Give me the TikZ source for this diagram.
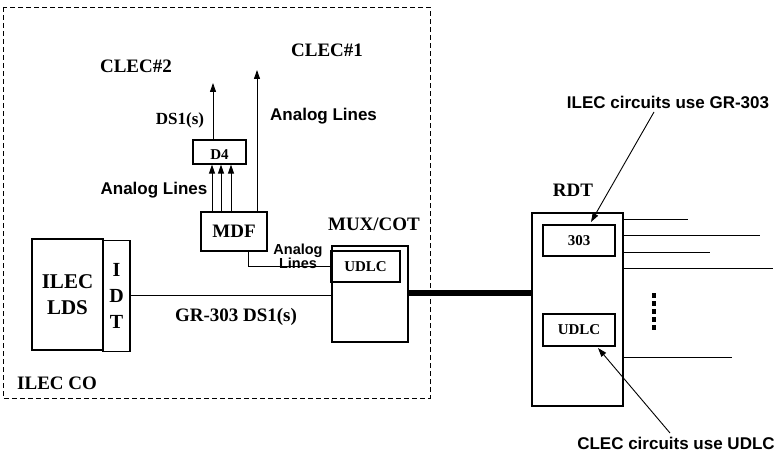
\documentclass[tikz,border=0pt]{standalone}
\usepackage{fontspec}
\setmainfont{Liberation Serif}
\newfontfamily\sansf{Liberation Sans}
\usetikzlibrary{arrows.meta}
\begin{document}
\begin{tikzpicture}[x=1pt,y=-1pt,
  box/.style={draw,line width=1.2pt,inner sep=0pt},
  ln/.style={line width=0.9pt},
  arr/.style={line width=0.9pt,-{Triangle[length=9pt,width=6pt]}},
  lbl/.style={font=\fontsize{19}{21}\selectfont\bfseries,inner sep=0pt},
  blbl/.style={font=\fontsize{21}{26}\selectfont\bfseries,inner sep=0pt},
  slbl/.style={font=\fontsize{15}{17}\selectfont\bfseries,inner sep=0pt},
  sans/.style={font=\fontsize{17}{19}\selectfont\sansf\bfseries,inner sep=0pt},
  ssans/.style={font=\fontsize{14.5}{17}\selectfont\sansf\bfseries,inner sep=0pt,align=center}]
\useasboundingbox (0,0) rectangle (776,457);
% ILEC CO boundary
\draw[line width=0.9pt,dash pattern=on 5pt off 3pt] (3,7) rectangle (430,398);
\node[lbl,anchor=west] (ilecco) at (17,383) {ILEC CO};
% CLEC labels
\node[lbl] (clec2) at (136,66) {CLEC\#2};
\node[lbl] (clec1) at (327,50) {CLEC\#1};
% D4 and MDF
\node[box,minimum width=53pt,minimum height=24pt] (d4) at (219.5,152) {};
\node[slbl] at (219.5,155) {D4};
\node[box,minimum width=66pt,minimum height=39pt,lbl] (mdf) at (234,231.5) {MDF};
\coordinate (ds1top) at (213,83);
\draw[arr] (d4.north -| ds1top) -- (ds1top);
\node[font=\fontsize{17}{19}\selectfont\bfseries,inner sep=0pt] (ds1) at (180,120) {DS1(s)};
\coordinate (a1) at (212,0);
\coordinate (a2) at (221,0);
\coordinate (a3) at (231,0);
\draw[arr] (a1 |- mdf.north) -- (a1 |- d4.south);
\draw[arr] (a2 |- mdf.north) -- (a2 |- d4.south);
\draw[arr] (a3 |- mdf.north) -- (a3 |- d4.south);
\coordinate (longtop) at (257,70);
\draw[arr] (longtop |- mdf.north) -- (longtop);
\node[sans,anchor=west] (al1) at (270,116) {Analog Lines};
\node[sans] (al2) at (154,190) {Analog Lines};
% MUX/COT
\node[lbl] (muxlbl) at (374,224) {MUX/COT};
\node[box,minimum width=76pt,minimum height=96pt] (mux) at (370,294) {};
\node[box,minimum width=69pt,minimum height=31pt,slbl] (udlc1) at (365.5,266.5) {UDLC};
\coordinate (mdfdown) at (248,0);
\draw[ln] (mdfdown |- mdf.south) |- (udlc1.west);
\node[ssans] (al3) at (298,256) {Analog\\[-3pt]Lines};
% ILEC LDS / IDT
\node[box,minimum width=71pt,minimum height=111pt,blbl,align=center] (lds) at (67.5,294.5) {ILEC\\LDS};
\node[box,minimum width=27pt,minimum height=111pt,lbl,align=center,font=\fontsize{20}{26}\selectfont\bfseries] (idt) at (116.5,296) {I\\D\\T};
\draw[ln] (idt.east |- 0,295) -- (mux.west |- 0,295);
\node[lbl] (gr303) at (236,317) {GR-303 DS1(s)};
% RDT
\node[lbl] (rdtlbl) at (573,190) {RDT};
\node[box,minimum width=91pt,minimum height=193pt] (rdt) at (577.5,309.5) {};
\node[box,minimum width=72pt,minimum height=31pt,slbl] (b303) at (579,240.5) {303};
\node[box,minimum width=72pt,minimum height=32pt,slbl] (udlc2) at (579,330) {UDLC};
\draw[line width=6pt] (mux.east |- 0,293) -- (rdt.west |- 0,293);
% lines at right
\coordinate (e1) at (688,219);
\coordinate (e2) at (760,235);
\coordinate (e3) at (710,252);
\coordinate (e4) at (773,268);
\coordinate (e5) at (732,357);
\foreach \e in {e1,e2,e3,e4,e5} \draw[ln] (rdt.east |- \e) -- (\e);
\foreach \yy in {295,303,311,319,327} \fill (651.5,\yy-2.5) rectangle (655.5,\yy+2.5);
% annotations
\node[sans] (ilecann) at (668,102) {ILEC circuits use GR-303};
\coordinate (t1) at (591,222);
\draw[arr] (654,112) -- (t1);
\node[sans] (clecann) at (676,443) {CLEC circuits use UDLC};
\coordinate (t2) at (598,348);
\draw[arr] (670,433) -- (t2);
\end{tikzpicture}
\end{document}
